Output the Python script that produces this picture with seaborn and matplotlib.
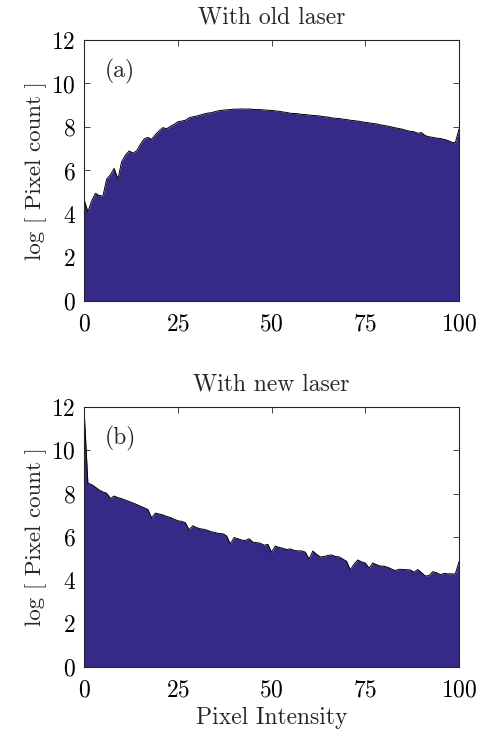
import numpy as np
import pandas as pd
import matplotlib
matplotlib.use("Agg")
import matplotlib.pyplot as plt
import seaborn as sns

# pixel intensity bins 0..100
intensity = list(range(101))

# log pixel count, old laser (a)
old_laser = [
    4.65, 4.10, 4.60, 4.95, 4.85, 4.82, 5.60, 5.80, 6.10, 5.60,
    6.40, 6.70, 6.90, 6.80, 6.90, 7.20, 7.45, 7.52, 7.43, 7.65,
    7.82, 7.97, 7.92, 8.03, 8.12, 8.24, 8.27, 8.31, 8.42, 8.47,
    8.50, 8.55, 8.60, 8.64, 8.66, 8.71, 8.75, 8.77, 8.79, 8.80,
    8.82, 8.82, 8.83, 8.82, 8.83, 8.81, 8.80, 8.80, 8.78, 8.77,
    8.76, 8.74, 8.72, 8.69, 8.67, 8.63, 8.62, 8.61, 8.58, 8.57,
    8.55, 8.53, 8.52, 8.50, 8.47, 8.46, 8.42, 8.40, 8.39, 8.36,
    8.34, 8.31, 8.29, 8.27, 8.24, 8.21, 8.19, 8.16, 8.14, 8.10,
    8.07, 8.04, 8.00, 7.96, 7.93, 7.89, 7.84, 7.80, 7.78, 7.71,
    7.74, 7.60, 7.55, 7.52, 7.49, 7.47, 7.43, 7.38, 7.30, 7.27,
    7.91,
]

# log pixel count, new laser (b)
new_laser = [
    11.80, 8.48, 8.42, 8.30, 8.17, 8.08, 8.02, 7.78, 7.89, 7.82,
    7.77, 7.70, 7.64, 7.57, 7.50, 7.42, 7.35, 7.27, 6.88, 7.10,
    7.06, 7.02, 6.95, 6.90, 6.82, 6.75, 6.72, 6.66, 6.33, 6.52,
    6.43, 6.38, 6.35, 6.30, 6.24, 6.20, 6.16, 6.15, 6.05, 5.68,
    5.97, 5.92, 5.86, 5.84, 5.92, 5.76, 5.74, 5.71, 5.62, 5.66,
    5.30, 5.58, 5.52, 5.48, 5.42, 5.45, 5.38, 5.36, 5.36, 5.30,
    4.98, 5.35, 5.20, 5.08, 5.10, 5.15, 5.17, 5.10, 5.08, 4.98,
    4.88, 4.48, 4.75, 4.94, 4.85, 4.80, 4.56, 4.80, 4.72, 4.66,
    4.65, 4.60, 4.52, 4.45, 4.51, 4.50, 4.49, 4.48, 4.38, 4.50,
    4.35, 4.20, 4.22, 4.40, 4.35, 4.26, 4.32, 4.30, 4.30, 4.29,
    4.86,
]

titles = ["With old laser", "With new laser"]
panel_labels = ["(a)", "(b)"]
x_ticks = [0, 25, 50, 75, 100]
y_ticks = [0, 2, 4, 6, 8, 10, 12]

sns.set_style("ticks")
plt.rcParams['font.family'] = ['cmr10', 'DejaVu Serif']
plt.rcParams['axes.formatter.use_mathtext'] = True
plt.rcParams['mathtext.fontset'] = 'cm'

fill_color = "#352A87"
edge_color = "#262626"

fig = plt.figure(figsize=(4.92, 7.34), dpi=100)
ax_a = fig.add_axes([0.171, 0.590, 0.762, 0.3555])
ax_b = fig.add_axes([0.171, 0.0913, 0.762, 0.3542])

for ax, vals, title, lab in zip([ax_a, ax_b], [old_laser, new_laser], titles, panel_labels):
    df = pd.DataFrame({"intensity": intensity, "logcount": vals})
    ax.fill_between(df["intensity"], 0, df["logcount"], color=fill_color, lw=0)
    sns.lineplot(data=df, x="intensity", y="logcount", ax=ax, color="black", lw=0.7)
    ax.set_xlim(0, 100)
    ax.set_ylim(0, 12)
    ax.set_xticks(x_ticks)
    ax.set_yticks(y_ticks)
    ax.tick_params(direction="in", top=True, right=True, length=4, width=0.6,
                   labelsize=17, colors=edge_color, labelcolor="black")
    ax.tick_params(axis="x", pad=9)
    ax.tick_params(axis="y", pad=6)
    for s in ax.spines.values():
        s.set_linewidth(0.8)
        s.set_color(edge_color)
    ax.set_title(title, fontsize=17, pad=12)
    ax.set_ylabel("log [ Pixel count ]", fontsize=16.5, labelpad=3)
    ax.set_xlabel("")
    ax.text(5.6, 10.55, lab, fontsize=17, va="center", ha="left")

ax_b.set_xlabel("Pixel Intensity", fontsize=17, labelpad=4)

fig.savefig("out.png", dpi=100)
